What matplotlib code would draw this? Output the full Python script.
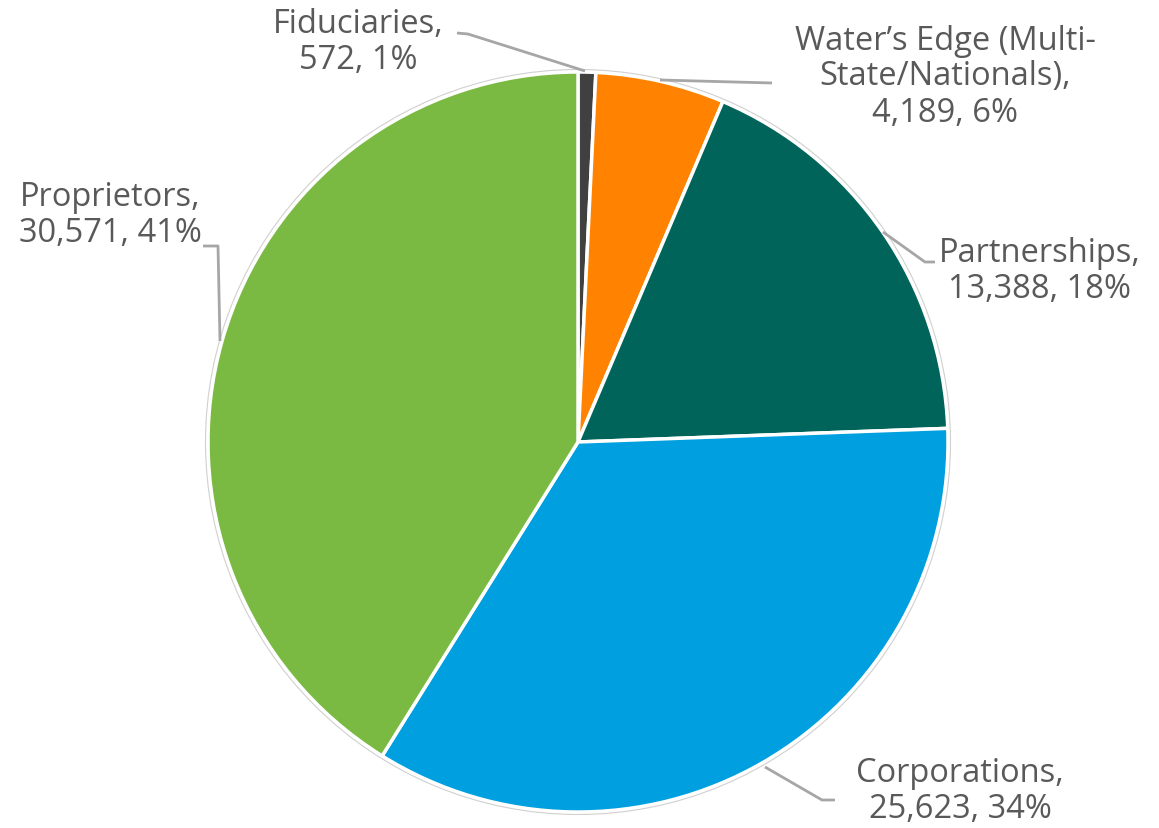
import matplotlib
matplotlib.use('Agg')
from matplotlib import pyplot as plt
from matplotlib.patches import Circle

# data
labels = ['Fiduciaries', 'Water\u2019s Edge (Multi-\nState/Nationals)', 'Partnerships', 'Corporations', 'Proprietors']
values = [572, 4189, 13388, 25623, 30571]
pcts = ['1%', '6%', '18%', '34%', '41%']
colors = ['#404040', '#ff8300', '#00645a', '#009fdf', '#7aba42']

W, H = 1159, 829
fig = plt.figure(figsize=(W / 100, H / 100), dpi=100)
ax = fig.add_axes([0, 0, 1, 1])
ax.set_aspect('equal')

cx, cy, r = 578, H - 443, 370
ax.pie(values, colors=colors, startangle=90, counterclock=False, center=(cx, cy), radius=r,
       wedgeprops=dict(edgecolor='white', linewidth=2.5), frame=True)
ax.add_patch(Circle((cx, cy), r + 2.5, fill=False, edgecolor='#d0d0d0', linewidth=0.8))
ax.set_xlim(0, W)
ax.set_ylim(0, H)
ax.axis('off')

txt = '#595959'
lc = '#a6a6a6'
font = 'Open Sans'

def label(x, y, s):
    ax.text(x, H - y, s, ha='center', va='center', fontsize=23.5, color=txt, family=font, linespacing=1.12)

def leader(pts):
    xs = [p[0] for p in pts]
    ys = [H - p[1] for p in pts]
    ax.plot(xs, ys, color=lc, linewidth=2, solid_capstyle='butt')

fmt = ['{:,}'.format(v) for v in values]
label(358, 42, labels[0] + ',\n' + fmt[0] + ', ' + pcts[0])
label(945, 77, labels[1] + ',\n' + fmt[1] + ', ' + pcts[1])
label(1040, 271, labels[2] + ',\n' + fmt[2] + ', ' + pcts[2])
label(960, 792, labels[3] + ',\n' + fmt[3] + ', ' + pcts[3])
label(110, 216, labels[4] + ',\n' + fmt[4] + ', ' + pcts[4])

leader([(457, 34), (468, 35), (585, 72)])
leader([(660, 81), (772, 84)])
leader([(935, 263), (925, 263), (883, 233)])
leader([(835, 801), (822, 801), (765, 768)])
leader([(203, 247), (218, 247), (220, 342)])

plt.savefig('out.png', dpi=100)
